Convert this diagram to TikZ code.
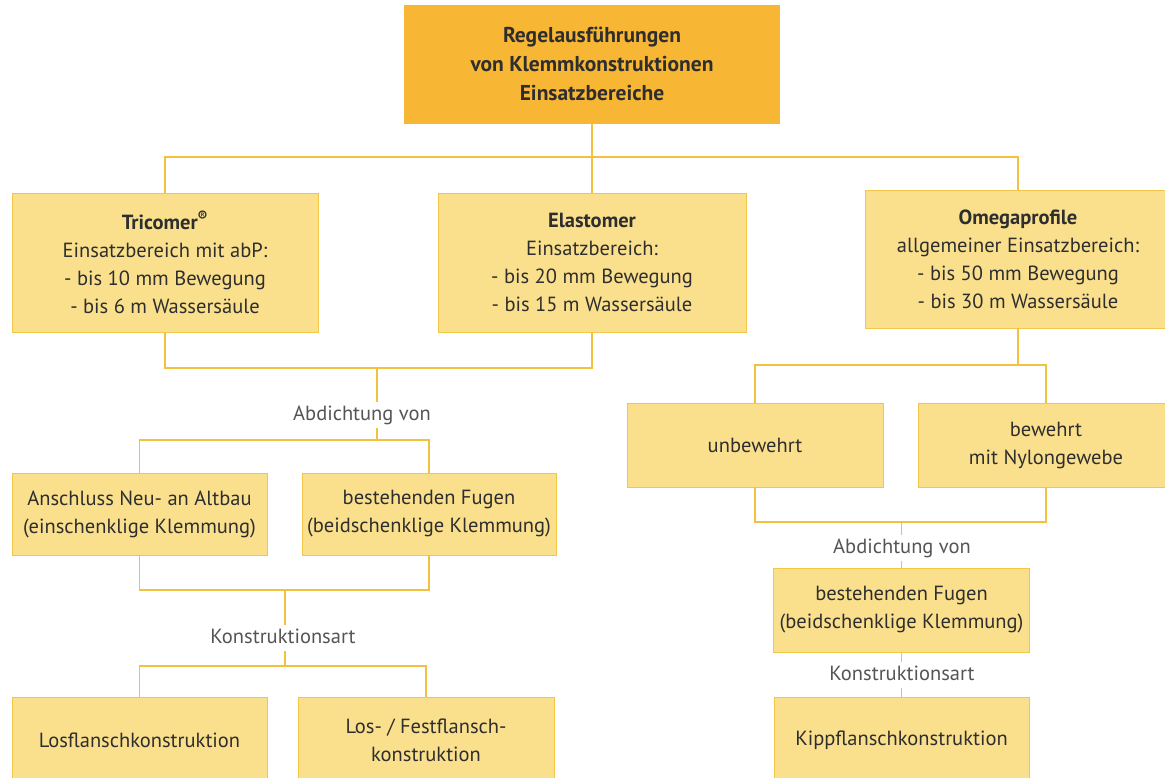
\documentclass[tikz,border=0pt]{standalone}
\usepackage{fontspec}
\setmainfont{PT Sans}
\definecolor{topfill}{HTML}{F8B635}
\definecolor{boxfill}{HTML}{FAE08D}
\definecolor{boxline}{HTML}{F2C646}
\definecolor{conn}{HTML}{F4C040}
\definecolor{txt}{HTML}{2E2E2E}
\definecolor{labtxt}{HTML}{555555}
\begin{document}
\begin{tikzpicture}[x=1pt,y=-1pt,
  box/.style={draw=boxline, fill=boxfill, line width=0.7pt, align=center, inner sep=0pt,
    font=\fontsize{20.5}{28}\selectfont, text=txt},
  topbox/.style={box, fill=topfill, draw=topfill, font=\bfseries\fontsize{21.5}{29}\selectfont},
  lab/.style={inner sep=0pt, text height=14pt, text depth=4pt, inner ysep=4pt,
    font=\fontsize{20.5}{24}\selectfont, text=labtxt},
  link/.style={draw=conn, line width=1.1pt}]
\useasboundingbox (0,0) rectangle (1165,778);
\fill[white] (0,0) rectangle (1165,778);

% boxes
\node[topbox, minimum width=375pt, minimum height=118pt] (top) at (592,64)
  {Regelausführungen\\von Klemmkonstruktionen\\Einsatzbereiche};
\node[box, minimum width=306pt, minimum height=139pt] (tri) at (165,262.5)
  {\textbf{Tricomer\textsuperscript{®}}\\Einsatzbereich mit abP:\\- bis 10 mm Bewegung\\- bis 6 m Wassersäule};
\node[box, minimum width=308pt, minimum height=139pt] (ela) at (592,262.5)
  {\textbf{Elastomer}\\Einsatzbereich:\\- bis 20 mm Bewegung\\- bis 15 m Wassersäule};
\node[box, minimum width=306pt, minimum height=138pt] (ome) at (1018,259)
  {\textbf{Omegaprofile}\\allgemeiner Einsatzbereich:\\- bis 50 mm Bewegung\\- bis 30 m Wassersäule};

\node[box, minimum width=255pt, minimum height=82pt] (anb) at (139.5,514)
  {Anschluss Neu- an Altbau\\(einschenklige Klemmung)};
\node[box, minimum width=254pt, minimum height=82pt] (bfl) at (429,514)
  {bestehenden Fugen\\(beidschenklige Klemmung)};
\node[box, minimum width=255pt, minimum height=86pt] (los) at (139.5,740)
  {Losflanschkonstruktion};
\node[box, minimum width=256pt, minimum height=86pt] (lff) at (426,740)
  {Los- / Festflansch-\\konstruktion};

\node[box, minimum width=256pt, minimum height=84pt] (unb) at (755,445) {unbewehrt};
\node[box, minimum width=256pt, minimum height=84pt] (bew) at (1046,445)
  {bewehrt\\mit Nylongewebe};
\node[box, minimum width=256pt, minimum height=84pt] (bfr) at (901.5,610)
  {bestehenden Fugen\\(beidschenklige Klemmung)};
\node[box, minimum width=255pt, minimum height=86pt] (kip) at (901.5,740)
  {Kippflanschkonstruktion};

% labels
\node[lab] (lab1) at (362,415) {Abdichtung von};
\node[lab] (lab2) at (283,638) {Konstruktionsart};
\node[lab] (lab3) at (902,548) {Abdichtung von};
\node[lab] (lab4) at (902,675) {Konstruktionsart};

% junctions
\coordinate (j0) at (592,157);
\coordinate (j1) at (377,368);
\coordinate (j2) at (377,440);
\coordinate (j3) at (285,590);
\coordinate (j4) at (285,666);
\coordinate (j5) at (1018,365);
\coordinate (j6) at (901.5,522);

% connectors
\draw[link] (top.south) -- (ela.north);
\draw[link] (tri.north) |- (j0) -| (ome.north);
\draw[link] (tri.south) |- (j1) -| (ela.south);
\draw[link] (j1) -- (j1 |- lab1.north);
\draw[link] (j1 |- lab1.south) -- (j2);
\draw[link] (anb.north) |- (j2) -| (bfl.north);
\draw[link] (anb.south) |- (j3) -| (bfl.south);
\draw[link] (j3) -- (j3 |- lab2.north);
\draw[link] (j3 |- lab2.south) -- (j4);
\draw[link] (los.north) |- (j4) -| (lff.north);

\draw[link] (ome.south) -- (j5);
\draw[link] (unb.north) |- (j5) -| (bew.north);
\draw[link] (unb.south) |- (j6) -| (bew.south);
\draw[link] (j6) -- (j6 |- lab3.north);
\draw[link] (j6 |- lab3.south) -- (bfr.north);
\draw[link] (bfr.south) -- (bfr.south |- lab4.north);
\draw[link] (bfr.south |- lab4.south) -- (kip.north);
\end{tikzpicture}
\end{document}
